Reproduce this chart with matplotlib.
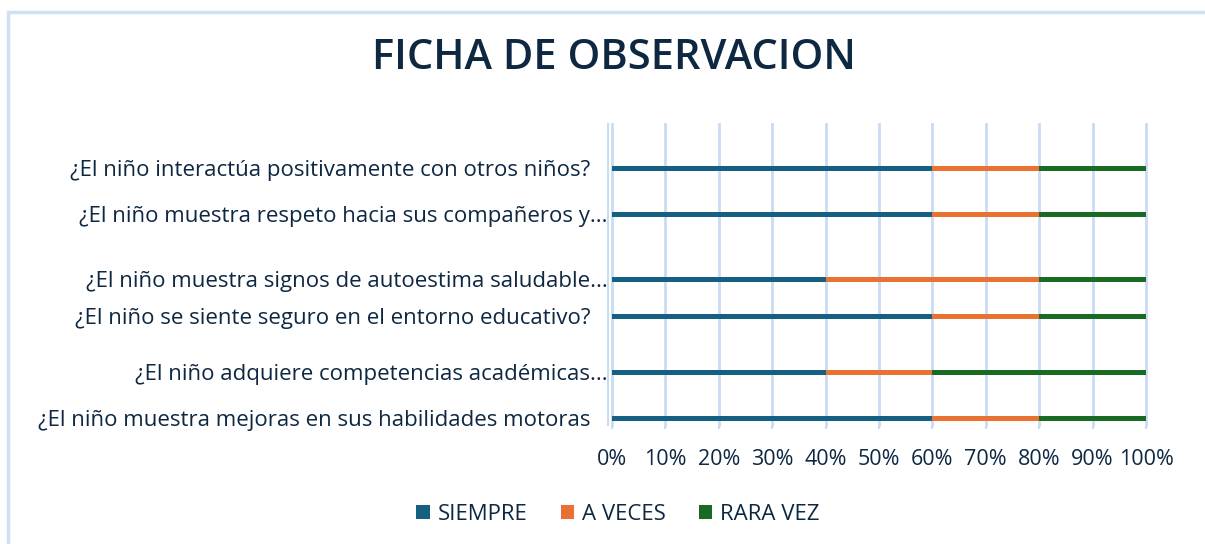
import matplotlib
matplotlib.use("Agg")
import matplotlib.pyplot as plt
from matplotlib.patches import Patch, Rectangle
from matplotlib.ticker import PercentFormatter, MultipleLocator

categories = [
    "¿El niño interactúa positivamente con otros niños?   ",
    "¿El niño muestra respeto hacia sus compañeros y...",
    "¿El niño muestra signos de autoestima saludable...",
    "¿El niño se siente seguro en el entorno educativo?   ",
    "¿El niño adquiere competencias académicas...",
    "¿El niño muestra mejoras en sus habilidades motoras   ",
]
siempre = [60, 60, 40, 60, 40, 60]
a_veces = [20, 20, 40, 20, 20, 20]
rara_vez = [20, 20, 20, 20, 40, 20]
series_names = ["SIEMPRE", "A VECES", "RARA VEZ"]
title = "FICHA DE OBSERVACION"

# layout: vertical placement of each category row (axis units)
row_pos = [168, 214, 279, 316, 372, 418]
y_limits = (425, 124)

colors = ["#156082", "#E97132", "#196B24"]
text_color = "#0E2841"
grid_color = "#CADCF2"
font = "Open Sans"

fig = plt.figure(figsize=(12.05, 5.44), dpi=100)
fig.patches.append(Rectangle((8 / 1205, -0.1), 1.2, 1 - 11.5 / 544 + 0.1,
                             transform=fig.transFigure, fill=False,
                             edgecolor="#CFE0F5", linewidth=2.5, zorder=0))

ax = fig.add_axes([612 / 1205, 1 - 425 / 544, (1146 - 612) / 1205, (425 - 124) / 544])

left = [0] * len(categories)
for name, vals, c in zip(series_names, [siempre, a_veces, rara_vez], colors):
    ax.barh(row_pos, vals, left=left, height=5, color=c, label=name, zorder=3)
    left = [l + v for l, v in zip(left, vals)]

ax.set_xlim(0, 100)
ax.set_ylim(*y_limits)
ax.xaxis.set_major_locator(MultipleLocator(10))
ax.xaxis.set_major_formatter(PercentFormatter(decimals=0))
ax.set_yticks(row_pos)
ax.set_yticklabels(categories)
ax.grid(axis="x", color=grid_color, linewidth=2, zorder=0)
for gl in ax.get_xgridlines():
    gl.set_clip_on(False)
for s in ["top", "right", "bottom"]:
    ax.spines[s].set_visible(False)
ax.spines["left"].set_color(grid_color)
ax.spines["left"].set_linewidth(1.5)
ax.spines["left"].set_position(("outward", 3))
ax.tick_params(axis="y", length=0, pad=0, labelsize=16, labelcolor=text_color)
ax.tick_params(axis="x", length=3, width=1.5, color=grid_color, pad=14,
               labelsize=15.5, labelcolor=text_color)
for lab in ax.get_xticklabels() + ax.get_yticklabels():
    lab.set_fontfamily(font)

fig.text(614 / 1205, 1 - 58 / 544, title, ha="center", va="center",
         fontsize=30, color=text_color, family=font, fontweight="semibold")

handles = [Patch(facecolor=c, edgecolor="none") for c in colors]
fig.legend(handles, series_names, loc="center", bbox_to_anchor=(618 / 1205, 1 - 514 / 544),
           ncol=3, frameon=False, handlelength=0.6, handleheight=0.6, handletextpad=0.35,
           columnspacing=1.5, prop={"family": font, "size": 16}, labelcolor=text_color)

fig.savefig("out.png", dpi=100)
